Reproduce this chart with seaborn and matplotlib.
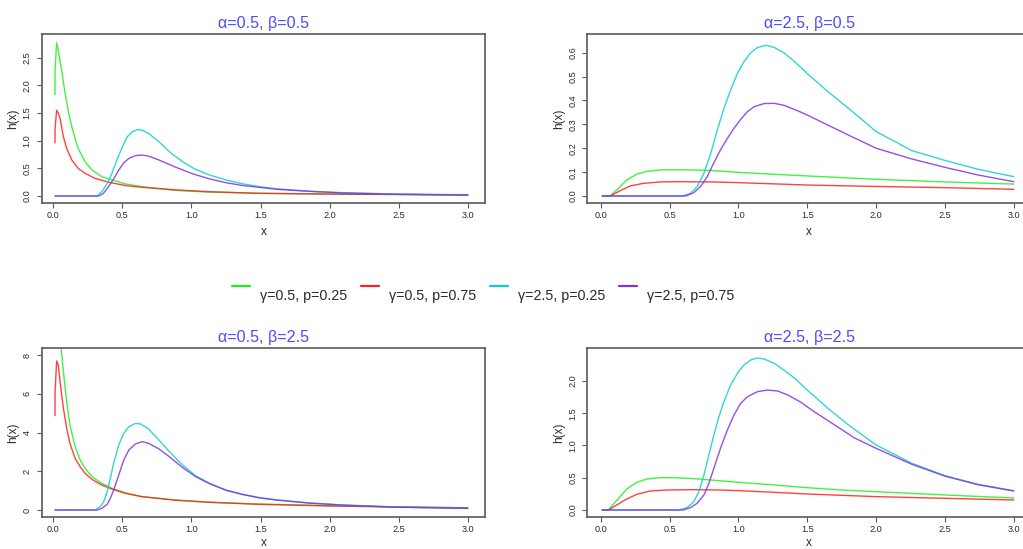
import numpy as np
import pandas as pd
import matplotlib
matplotlib.use("Agg")
import matplotlib.pyplot as plt
from matplotlib.lines import Line2D
import seaborn as sns

sns.set_theme(style="ticks")
plt.rcParams["font.family"] = ["Liberation Sans", "DejaVu Sans"]

# ---- series definitions -------------------------------------------------
series_labels = ["γ=0.5, p=0.25", "γ=0.5, p=0.75", "γ=2.5, p=0.25", "γ=2.5, p=0.75"]
series_colors = ["#22EE22", "#FF2020", "#10CDCD", "#8033E0"]
panel_titles = ["α=0.5, β=0.5", "α=2.5, β=0.5", "α=0.5, β=2.5", "α=2.5, β=2.5"]

# ---- hazard curves h(x), one (x, h) pair per series and panel ------------
# panel: alpha=0.5, beta=0.5
p1_g_x = [0.012, 0.013, 0.024, 0.036, 0.049, 0.06, 0.085, 0.11, 0.134, 0.158, 0.18, 0.23, 0.28, 0.35, 0.425, 0.52, 0.64, 0.89, 1.13, 1.49, 1.98, 2.5, 3.0]
p1_g_y = [1.83, 2.28, 2.77, 2.64, 2.43, 2.28, 1.86, 1.52, 1.25, 1.04, 0.86, 0.62, 0.47, 0.35, 0.29, 0.22, 0.17, 0.10, 0.07, 0.05, 0.035, 0.03, 0.025]
p1_r_x = [0.012, 0.013, 0.024, 0.036, 0.049, 0.073, 0.097, 0.134, 0.18, 0.23, 0.30, 0.40, 0.52, 0.64, 0.89, 1.13, 1.49, 2.0, 2.5, 3.0]
p1_r_y = [0.96, 1.22, 1.55, 1.50, 1.40, 1.07, 0.86, 0.65, 0.50, 0.41, 0.32, 0.25, 0.19, 0.157, 0.11, 0.078, 0.048, 0.035, 0.027, 0.02]
p1_c_x = [0.012, 0.316, 0.352, 0.389, 0.425, 0.46, 0.50, 0.535, 0.571, 0.608, 0.644, 0.69, 0.765, 0.84, 0.936, 1.03, 1.13, 1.25, 1.37, 1.49, 1.62, 1.86, 2.10, 2.5, 3.0]
p1_c_y = [0, 0, 0.08, 0.22, 0.41, 0.65, 0.89, 1.07, 1.16, 1.20, 1.19, 1.13, 0.98, 0.80, 0.62, 0.48, 0.38, 0.29, 0.22, 0.17, 0.13, 0.084, 0.06, 0.035, 0.02]
p1_p_x = [0.012, 0.33, 0.364, 0.40, 0.437, 0.474, 0.51, 0.547, 0.595, 0.644, 0.69, 0.765, 0.887, 1.01, 1.13, 1.25, 1.37, 1.49, 1.62, 1.86, 2.10, 2.5, 3.0]
p1_p_y = [0, 0, 0.05, 0.17, 0.31, 0.47, 0.60, 0.68, 0.73, 0.74, 0.72, 0.65, 0.52, 0.40, 0.31, 0.24, 0.19, 0.157, 0.12, 0.084, 0.054, 0.03, 0.015]

# panel: alpha=2.5, beta=0.5
p2_g_x = [0.012, 0.068, 0.117, 0.19, 0.263, 0.336, 0.433, 0.506, 0.676, 0.80, 1.0, 1.26, 1.5, 2.0, 2.5, 3.0]
p2_g_y = [0, 0, 0.025, 0.067, 0.092, 0.103, 0.109, 0.110, 0.109, 0.107, 0.099, 0.091, 0.084, 0.070, 0.059, 0.050]
p2_r_x = [0.012, 0.068, 0.141, 0.214, 0.31, 0.433, 0.555, 0.80, 1.0, 1.5, 2.0, 2.5, 3.0]
p2_r_y = [0, 0, 0.022, 0.042, 0.053, 0.059, 0.060, 0.059, 0.056, 0.046, 0.040, 0.035, 0.028]
p2_c_x = [0.012, 0.59, 0.652, 0.70, 0.75, 0.80, 0.847, 0.895, 0.944, 0.993, 1.04, 1.09, 1.14, 1.20, 1.26, 1.33, 1.41, 1.5, 1.65, 1.80, 2.0, 2.26, 2.5, 2.74, 3.0]
p2_c_y = [0, 0, 0.011, 0.039, 0.095, 0.179, 0.276, 0.367, 0.444, 0.513, 0.562, 0.60, 0.622, 0.631, 0.622, 0.60, 0.562, 0.513, 0.437, 0.367, 0.27, 0.19, 0.149, 0.112, 0.081]
p2_p_x = [0.012, 0.62, 0.676, 0.725, 0.774, 0.82, 0.87, 0.92, 0.968, 1.017, 1.066, 1.114, 1.187, 1.26, 1.33, 1.43, 1.5, 1.65, 1.80, 2.0, 2.26, 2.5, 2.74, 3.0]
p2_p_y = [0, 0, 0.014, 0.039, 0.081, 0.137, 0.193, 0.241, 0.283, 0.321, 0.353, 0.374, 0.387, 0.388, 0.380, 0.357, 0.339, 0.297, 0.255, 0.200, 0.155, 0.120, 0.088, 0.060]

# panel: alpha=0.5, beta=2.5
p3_g_x = [0.012, 0.024, 0.036, 0.049, 0.056, 0.073, 0.097, 0.12, 0.158, 0.194, 0.23, 0.28, 0.35, 0.425, 0.52, 0.64, 0.887, 1.13, 1.49, 2.0, 2.5, 3.0]
p3_g_y = [9.0, 12.5, 11.5, 9.3, 8.4, 7.14, 5.59, 4.39, 3.27, 2.58, 2.15, 1.72, 1.38, 1.12, 0.89, 0.69, 0.52, 0.40, 0.31, 0.22, 0.16, 0.12]
p3_r_x = [0.012, 0.013, 0.024, 0.036, 0.049, 0.061, 0.073, 0.097, 0.12, 0.158, 0.194, 0.23, 0.28, 0.35, 0.425, 0.52, 0.64, 0.887, 1.13, 1.49, 2.0, 2.5, 3.0]
p3_r_y = [4.87, 6.11, 7.69, 7.49, 6.63, 5.94, 5.25, 4.22, 3.44, 2.67, 2.24, 1.89, 1.58, 1.29, 1.08, 0.86, 0.69, 0.50, 0.40, 0.29, 0.21, 0.15, 0.11]
p3_c_x = [0.012, 0.30, 0.34, 0.365, 0.39, 0.413, 0.437, 0.474, 0.51, 0.547, 0.595, 0.632, 0.69, 0.765, 0.84, 0.936, 1.03, 1.13, 1.25, 1.37, 1.49, 1.62, 1.86, 2.10, 2.5, 3.0]
p3_c_y = [0, 0, 0.17, 0.43, 0.95, 1.64, 2.41, 3.36, 3.96, 4.30, 4.47, 4.44, 4.18, 3.61, 3.01, 2.32, 1.77, 1.38, 1.03, 0.81, 0.64, 0.52, 0.36, 0.26, 0.15, 0.09]
p3_p_x = [0.012, 0.32, 0.352, 0.39, 0.413, 0.437, 0.474, 0.51, 0.547, 0.595, 0.644, 0.69, 0.765, 0.84, 0.936, 1.03, 1.13, 1.25, 1.37, 1.49, 1.62, 1.86, 2.10, 2.5, 3.0]
p3_p_y = [0, 0, 0.09, 0.29, 0.60, 1.03, 1.81, 2.58, 3.10, 3.41, 3.53, 3.44, 3.15, 2.75, 2.19, 1.72, 1.36, 1.02, 0.80, 0.63, 0.51, 0.35, 0.25, 0.14, 0.08]

# panel: alpha=2.5, beta=2.5
p4_g_x = [0.012, 0.056, 0.092, 0.141, 0.19, 0.263, 0.336, 0.433, 0.53, 0.676, 0.80, 1.0, 1.26, 1.5, 1.75, 2.0, 2.5, 3.0]
p4_g_y = [0, 0, 0.088, 0.207, 0.326, 0.429, 0.481, 0.501, 0.501, 0.486, 0.465, 0.429, 0.388, 0.346, 0.310, 0.284, 0.233, 0.186]
p4_r_x = [0.012, 0.056, 0.117, 0.19, 0.263, 0.36, 0.48, 0.676, 0.86, 1.0, 1.26, 1.5, 2.0, 2.5, 3.0]
p4_r_y = [0, 0, 0.078, 0.171, 0.243, 0.295, 0.310, 0.315, 0.310, 0.300, 0.274, 0.248, 0.207, 0.181, 0.155]
p4_c_x = [0.012, 0.567, 0.628, 0.676, 0.713, 0.75, 0.786, 0.822, 0.859, 0.895, 0.944, 0.993, 1.04, 1.09, 1.14, 1.187, 1.26, 1.33, 1.41, 1.5, 1.65, 1.80, 2.0, 2.26, 2.5, 2.74, 3.0]
p4_c_y = [0, 0, 0.036, 0.129, 0.284, 0.543, 0.853, 1.163, 1.447, 1.680, 1.938, 2.119, 2.248, 2.326, 2.357, 2.341, 2.274, 2.171, 2.041, 1.860, 1.576, 1.318, 1.008, 0.724, 0.532, 0.398, 0.300]
p4_p_x = [0.012, 0.6, 0.652, 0.70, 0.75, 0.786, 0.822, 0.87, 0.92, 0.968, 1.017, 1.066, 1.14, 1.21, 1.285, 1.36, 1.455, 1.55, 1.70, 1.84, 2.0, 2.26, 2.5, 2.74, 3.0]
p4_p_y = [0, 0, 0.036, 0.103, 0.233, 0.413, 0.646, 0.956, 1.240, 1.473, 1.654, 1.757, 1.835, 1.860, 1.845, 1.783, 1.669, 1.525, 1.318, 1.121, 0.956, 0.708, 0.525, 0.392, 0.293]

# ---- axis ticks per panel ------------------------------------------------
x_ticks = [0.0, 0.5, 1.0, 1.5, 2.0, 2.5, 3.0]
p1_y_ticks = [0.0, 0.5, 1.0, 1.5, 2.0, 2.5]
p2_y_ticks = [0.0, 0.1, 0.2, 0.3, 0.4, 0.5, 0.6]
p3_y_ticks = [0, 2, 4, 6, 8]
p4_y_ticks = [0.0, 0.5, 1.0, 1.5, 2.0]

panels = [
    dict(curves=[(p1_g_x, p1_g_y), (p1_r_x, p1_r_y), (p1_c_x, p1_c_y), (p1_p_x, p1_p_y)],
         yticks=p1_y_ticks, fmt="{:.1f}", ylim=(-0.121, 2.923), xlim=(-0.084, 3.125),
         rect=(41.7, 34.3, 485.0, 202.7), xpad=4.5),
    dict(curves=[(p2_g_x, p2_g_y), (p2_r_x, p2_r_y), (p2_c_x, p2_c_y), (p2_p_x, p2_p_y)],
         yticks=p2_y_ticks, fmt="{:.1f}", ylim=(-0.028, 0.677), xlim=(-0.097, 3.125),
         rect=(587.3, 34.3, 1031.0, 202.7), xpad=4.5),
    dict(curves=[(p3_g_x, p3_g_y), (p3_r_x, p3_r_y), (p3_c_x, p3_c_y), (p3_p_x, p3_p_y)],
         yticks=p3_y_ticks, fmt="{:.0f}", ylim=(-0.346, 8.346), xlim=(-0.084, 3.125),
         rect=(41.7, 348.3, 485.0, 516.7), xpad=2.0),
    dict(curves=[(p4_g_x, p4_g_y), (p4_r_x, p4_r_y), (p4_c_x, p4_c_y), (p4_p_x, p4_p_y)],
         yticks=p4_y_ticks, fmt="{:.1f}", ylim=(-0.104, 2.507), xlim=(-0.097, 3.125),
         rect=(587.3, 348.3, 1031.0, 516.7), xpad=2.0),
]

W, H = 1023, 549
fig = plt.figure(figsize=(W / 100, H / 100), dpi=100)
fig.patch.set_facecolor("white")

palette = dict(zip(series_labels, series_colors))
title_color = "#4B4BFF"
text_color = "#2A2A2A"
frame_color = "#5A5A5A"

for title, spec in zip(panel_titles, panels):
    x0, y0, x1, y1 = spec["rect"]
    ax = fig.add_axes([x0 / W, 1 - y1 / H, (x1 - x0) / W, (y1 - y0) / H])
    rows = []
    for label, (xs, ys) in zip(series_labels, spec["curves"]):
        rows.append(pd.DataFrame({"x": xs, "h": ys, "series": label}))
    df = pd.concat(rows, ignore_index=True)
    sns.lineplot(data=df, x="x", y="h", hue="series", hue_order=series_labels,
                 palette=palette, estimator=None, sort=False, legend=False,
                 linewidth=1.0, alpha=0.85, ax=ax)
    ax.set_xlim(*spec["xlim"])
    ax.set_ylim(*spec["ylim"])
    ax.set_xticks(x_ticks)
    ax.set_xticklabels([f"{t:.1f}" for t in x_ticks])
    ax.set_yticks(spec["yticks"])
    ax.set_yticklabels([spec["fmt"].format(t) for t in spec["yticks"]])
    ax.tick_params(direction="out", length=3.6, width=0.8, colors=frame_color,
                   labelcolor=text_color, labelsize=6.6, pad=2.5)
    ax.tick_params(axis="y", labelrotation=90, pad=3.5)
    for lbl in ax.get_yticklabels():
        lbl.set_va("center")
    for sp in ax.spines.values():
        sp.set_color(frame_color)
        sp.set_linewidth(1.2)
    ax.set_xlabel("x", fontsize=8.5, color=text_color, labelpad=spec["xpad"])
    ax.set_ylabel("h(x)", fontsize=8.5, color=text_color, labelpad=2.5)
    ax.set_title(title, color=title_color, fontsize=11.6, pad=4.5)
    ax.set_facecolor("white")

# legend row between the two panel rows
key_x0, text_x0, step = 232, 260, 129
for i, (label, color) in enumerate(zip(series_labels, series_colors)):
    lx = key_x0 + i * step
    fig.add_artist(Line2D([lx / W, (lx + 18) / W], [1 - 285.7 / H, 1 - 285.7 / H],
                          transform=fig.transFigure, color=color, linewidth=1.6))
    fig.text((text_x0 + i * step) / W, 1 - 300 / H, label, fontsize=10.3,
             color=text_color, ha="left", va="baseline")

fig.savefig("out.png", dpi=100, facecolor="white")
